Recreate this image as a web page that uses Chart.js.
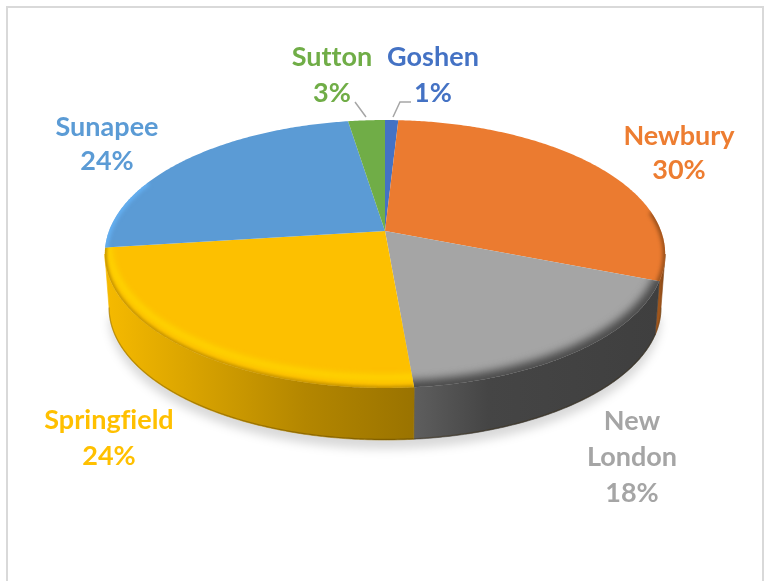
<!DOCTYPE html>
<html>
<head>
<meta charset="utf-8">
<style>
html,body{margin:0;padding:0;background:#fff;overflow:hidden}
canvas{display:block}
</style>
<script src="https://cdn.jsdelivr.net/npm/chart.js@4"></script>
</head>
<body>
<canvas id="c" width="766" height="581"></canvas>
<script>
const categories = ["Goshen", "Newbury", "New London", "Springfield", "Sunapee", "Sutton"];
const shares = [0.9, 30, 17.7, 24.4, 24.49, 2.5];
const percentLabels = ["1%", "30%", "18%", "24%", "24%", "3%"];

const faceColors = ["#4472C4", "#EB7B30", "#A5A5A5", "#FDC000", "#5B9BD5", "#70AD47"];
const labelColors = ["#4472C4", "#ED7D31", "#A5A5A5", "#FFC000", "#5B9BD5", "#70AD47"];
const sideColors = [null,
  [[0,"#7E4214"],[1,"#A0561C"]],
  [[0,"#3F3F3F"],[.7,"#454545"],[1,"#5E5E5E"]],
  [[0,"#9A7300"],[.35,"#B38600"],[1,"#F6BA00"]],
  null, null];
const rims = [
  null,
  {color:"#7E4214", width:4, blur:2, scale:1, lift:0, from:-.15, to:1.0},
  {color:"#484848", width:14, blur:4, scale:1, lift:0},
  {color:"#FFDF00", width:4, blur:3, scale:.985, lift:-8},
  {color:"#66B4F8", width:5, blur:2, scale:1, lift:0, from:2.9, to:3.55},
  null
];
const edgeShade = [null,null,null,"rgba(150,110,0,.55)",null,null];
const labelAnchors = [[433,57],[679,136],[632,421],[109,420],[107,127],[332,57]];
const LINE_HEIGHT = [36,34,36,36,34,36];

const CX=385, CY=231, RX=276, RY=130, K=.1716, DEPTH=54.4, BOTTOM_SCALE=.985;
function P(a,scale=1,dy=0){
  const u=Math.cos(a), v=Math.sin(a), w=1-K*v;
  return [CX+RX*scale*u/w, CY+dy+RY*scale*v/w];
}
function trace(ctx,a0,a1,scale,dy,move){
  const n=Math.max(2,Math.ceil(Math.abs(a1-a0)/.01));
  for(let i=0;i<=n;i++){
    const p=P(a0+(a1-a0)*i/n,scale,dy);
    if(i===0&&move) ctx.moveTo(p[0],p[1]); else ctx.lineTo(p[0],p[1]);
  }
}
// lower arc of the rim runs between the widest points (sin a = K)
const lowA0=Math.asin(K), lowA1=Math.PI-Math.asin(K);

const Arc = Chart.registry.getElement('arc');
Arc.prototype.draw = function(ctx){
  const i=this.$context.dataIndex, a0=this.startAngle, a1=this.endAngle;
  ctx.save();
  ctx.beginPath();
  ctx.moveTo(CX,CY);
  trace(ctx,a0,a1,1,0,false);
  ctx.closePath();
  ctx.fillStyle=this.options.backgroundColor;
  ctx.fill();
  const rim=rims[i];
  if(rim){
    ctx.clip();
    ctx.filter=`blur(${rim.blur}px)`;
    ctx.strokeStyle=rim.color;
    ctx.lineWidth=rim.width;
    ctx.beginPath();
    const from=rim.from===undefined?a0-.03:Math.max(a0-.03,rim.from);
    const to=rim.to===undefined?a1+.03:Math.min(a1+.03,rim.to);
    trace(ctx,from,to,rim.scale,rim.lift,true);
    ctx.stroke();
    if(edgeShade[i]){
      ctx.strokeStyle=edgeShade[i];
      ctx.lineWidth=4;
      ctx.filter='blur(1.5px)';
      ctx.beginPath();
      trace(ctx,Math.max(a0,lowA0+.5),a1+.03,1,0,true);
      ctx.stroke();
    }
  }
  ctx.restore();
};
const depthPlugin={
  id:'depth',
  beforeDatasetsDraw(chart){
    const ctx=chart.ctx, els=chart.getDatasetMeta(0).data;
    ctx.save();
    ctx.strokeStyle="#D9D9D9"; ctx.lineWidth=2;
    ctx.beginPath(); ctx.moveTo(7,600); ctx.lineTo(7,7); ctx.lineTo(763,7); ctx.lineTo(763,600); ctx.stroke();
    ctx.filter='blur(5px)';
    ctx.fillStyle='rgba(0,0,0,.15)';
    ctx.beginPath(); trace(ctx,lowA0,lowA1,BOTTOM_SCALE,DEPTH+9,true); ctx.closePath(); ctx.fill();
    ctx.filter='none';
    els.forEach((el,i)=>{
      if(!sideColors[i]) return;
      const a0=Math.max(el.startAngle,lowA0), a1=Math.min(el.endAngle,lowA1);
      if(a1<=a0) return;
      const p0=P(a0), p1=P(a1);
      const g=ctx.createLinearGradient(Math.max(p0[0],p1[0]),0,Math.min(p0[0],p1[0]),0);
      sideColors[i].forEach(s=>g.addColorStop(s[0],s[1]));
      ctx.beginPath();
      trace(ctx,a0,a1,1,0,true);
      trace(ctx,a1,a0,BOTTOM_SCALE,DEPTH,false);
      ctx.closePath();
      ctx.fillStyle=g; ctx.fill();
      ctx.strokeStyle=g; ctx.lineWidth=.6; ctx.stroke();
      ctx.strokeStyle='rgba(60,40,0,.3)'; ctx.lineWidth=1.2;
      ctx.beginPath(); trace(ctx,a0,a1,BOTTOM_SCALE,DEPTH-.6,true); ctx.stroke();
    });
    ctx.restore();
  }
};
const labelPlugin={
  id:'sliceLabels',
  afterDatasetsDraw(chart){
    const ctx=chart.ctx;
    ctx.save();
    ctx.font='700 27px Lato';
    ctx.letterSpacing='0.01px';
    ctx.textAlign='center'; ctx.textBaseline='middle';
    categories.forEach((c,i)=>{
      const lines=c.split(' ').concat(percentLabels[i]);
      ctx.fillStyle=labelColors[i];
      lines.forEach((t,j)=>ctx.fillText(t,labelAnchors[i][0],labelAnchors[i][1]+j*LINE_HEIGHT[i]));
    });
    ctx.strokeStyle='#A6A6A6'; ctx.lineWidth=1.5;
    ctx.beginPath();
    ctx.moveTo(355,102); ctx.lineTo(366,117);
    ctx.moveTo(393,117); ctx.lineTo(400,102); ctx.lineTo(411,102);
    ctx.stroke();
    ctx.restore();
  }
};
new Chart(document.getElementById('c'),{
  type:'pie',
  data:{labels:categories,datasets:[{data:shares,backgroundColor:faceColors,borderWidth:0}]},
  options:{
    responsive:false,animation:false,
    plugins:{legend:{display:false},tooltip:{enabled:false}}
  },
  plugins:[depthPlugin,labelPlugin]
});
</script>
</body>
</html>
